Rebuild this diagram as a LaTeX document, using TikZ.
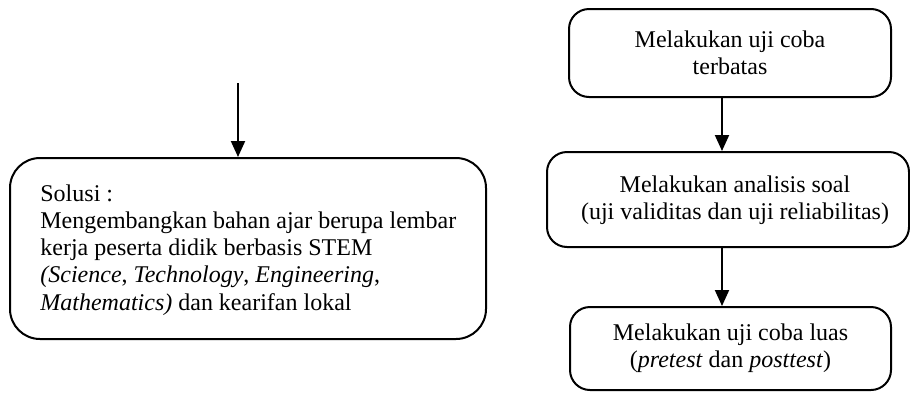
\documentclass[tikz,border=0pt]{standalone}
\usepackage{fontspec}
\setmainfont{Liberation Serif}
\usetikzlibrary{arrows.meta}
\begin{document}
\begin{tikzpicture}[x=0.5pt,y=-0.5pt,
  every node/.style={font=\fontsize{12}{13.6}\selectfont},
  bigbox/.style={draw,line width=1pt,rounded corners=15pt,minimum width=238pt,minimum height=90.5pt,inner sep=0pt},
  stepbox/.style={draw,line width=1pt,rounded corners=10pt,inner sep=0pt,align=center},
  arr/.style={line width=1pt,-{Triangle[width=7pt,length=8pt]}}
]
\useasboundingbox (0,0) rectangle (910,392);
\node[bigbox] (sol) at (248,248.5) {};
\node[anchor=west,align=left,inner sep=0pt] (soltext) at (40,250) {Solusi :\\
Mengembangkan bahan ajar berupa lembar\\
kerja peserta didik berbasis STEM\\
\textit{(Science}, \textit{Technology}, \textit{Engineering},\\
\textit{Mathematics)} dan kearifan lokal};
\coordinate (top) at (238,83);
\draw[arr] (top) -- (top |- sol.north);
\node[stepbox,minimum width=161pt,minimum height=44pt] (b1) at (730,53) {Melakukan uji coba\\terbatas};
\node[stepbox,minimum width=181pt,minimum height=47.5pt] (b2) at (728,199.5) {};
\node[align=center,inner sep=0pt] (b2text) at (735,200) {Melakukan analisis soal\\(uji validitas dan uji reliabilitas)};
\node[stepbox,minimum width=160.5pt,minimum height=41.5pt] (b3) at (730.5,348.5) {Melakukan uji coba luas\\(\textit{pretest} dan \textit{posttest})};
\draw[arr] (722,0 |- b1.south) -- (722,0 |- b2.north);
\draw[arr] (722,0 |- b2.south) -- (722,0 |- b3.north);
\end{tikzpicture}
\end{document}
